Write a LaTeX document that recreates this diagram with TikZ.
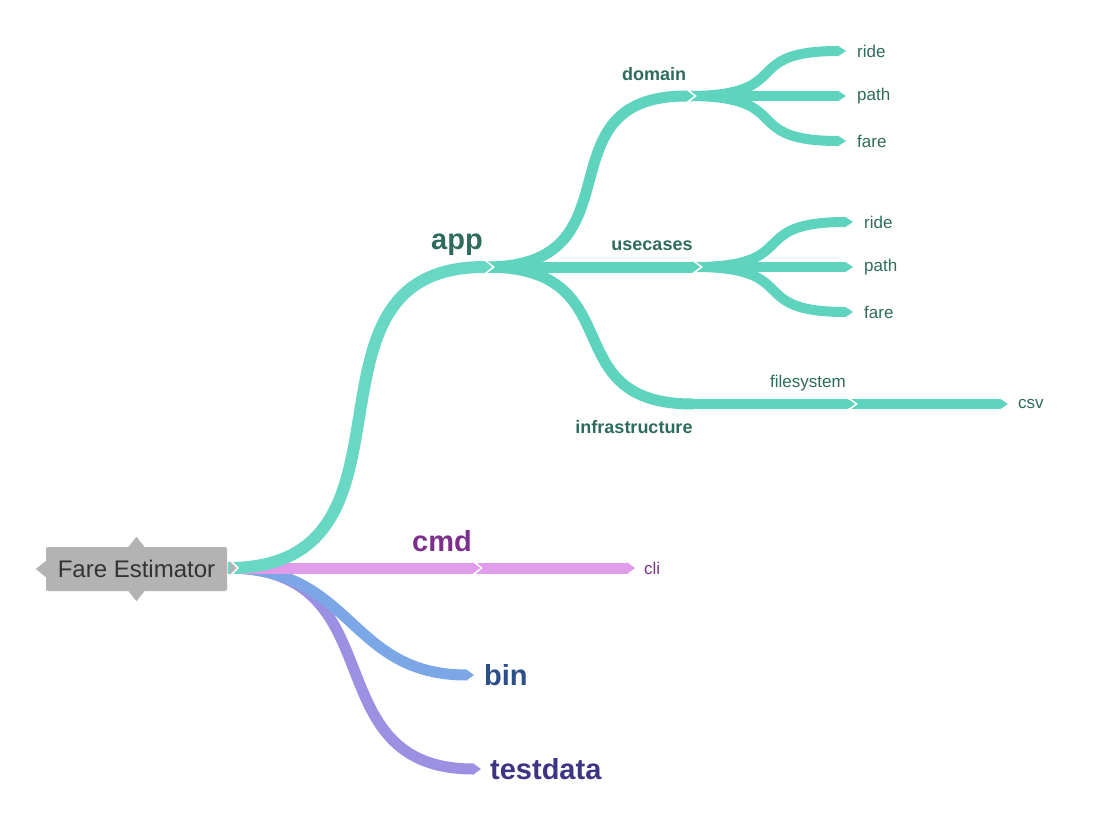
\documentclass[tikz,border=0pt]{standalone}
\usepackage{fontspec}
\setmainfont{Liberation Sans}
\usetikzlibrary{arrows.meta, positioning, calc}
\definecolor{rootgray}{HTML}{B3B3B3}
\definecolor{appband}{HTML}{68D7C4}
\definecolor{leafband}{HTML}{5ED4BE}
\definecolor{cmdband}{HTML}{E09BEA}
\definecolor{binband}{HTML}{7BA7E6}
\definecolor{testband}{HTML}{9C90E3}
\definecolor{apptext}{HTML}{2E6B5C}
\definecolor{cmdtext}{HTML}{7D2F8E}
\definecolor{bintext}{HTML}{2B4F86}
\definecolor{testtext}{HTML}{3D3483}

\begin{document}
\begin{tikzpicture}[x=1pt, y=-1pt,
    band/.style={line width=#1, -{Triangle[length=8pt, width=#1]}},
    band/.default=11pt,
    fan/.style={out=0, in=180, looseness=1.7},
    notch/.style={white, line width=1.6pt},
    lvlone/.style={font=\fontsize{29}{34}\selectfont\bfseries, inner sep=0pt},
    lvltwo/.style={font=\fontsize{18}{22}\selectfont\bfseries, text=apptext, inner sep=0pt},
    leaf/.style={font=\fontsize{17}{20}\selectfont, text=apptext, inner sep=0pt, anchor=west},
    rootbox/.style={fill=rootgray, rounded corners=2pt, minimum width=181pt, minimum height=44pt,
        inner sep=0pt, text=black!80, font=\fontsize{24}{28}\selectfont}]
    \useasboundingbox (0,0) rectangle (1120,833);
    \newcommand\chevron[2]{\draw[notch] ($(#1)+(-6.5,-#2)$) -- ($(#1)+(1.5,0)$) -- ($(#1)+(-6.5,#2)$);}

    % junction points
    \coordinate (r) at (228,568);
    \coordinate (app) at (492,267);
    \coordinate (domain) at (694,96);
    \coordinate (usecases) at (700,267);
    \coordinate (infra) at (700,404);
    \coordinate (filesys) at (855,404);
    \coordinate (cmd) at (480,568);

    % leaves
    \draw[band=10pt, leafband] ($(domain)+(-6,0)$) to[fan] (846,51);
    \draw[band=10pt, leafband] ($(domain)+(-6,0)$) -- (846,96);
    \draw[band=10pt, leafband] ($(domain)+(-6,0)$) to[fan] (846,141);
    \draw[band=10pt, leafband] ($(usecases)+(-6,0)$) to[fan] (853,222);
    \draw[band=10pt, leafband] ($(usecases)+(-6,0)$) -- (853,267);
    \draw[band=10pt, leafband] ($(usecases)+(-6,0)$) to[fan] (853,312);
    \draw[band=10pt, leafband] ($(filesys)+(-6,0)$) -- (1008,404);
    \draw[band, cmdband] ($(cmd)+(-6,0)$) -- (635,568);
    \chevron{domain}{6}
    \chevron{usecases}{6}
    \chevron{infra}{6}
    \chevron{filesys}{6}
    \chevron{cmd}{6.5}
    \draw[band=10pt, leafband] ($(infra)+(-6,0)$) -- (filesys);

    % second level
    \draw[band, leafband] ($(app)+(-6,0)$) to[out=0, in=180, looseness=1.5] (domain);
    \draw[band, leafband] ($(app)+(-6,0)$) -- (usecases);
    \draw[band, leafband] ($(app)+(-6,0)$) to[out=0, in=180, looseness=1.5] (infra);
    \chevron{app}{6.5}

    % first level
    \draw[band, testband] (r) to[out=0, in=180, looseness=1.35] (481,769);
    \draw[band, binband] (r) to[out=0, in=180, looseness=1.2] (474,675);
    \draw[band, cmdband] (r) -- (cmd);
    \draw[band=12pt, appband] (r) to[out=0, in=180, looseness=1.35] (app);

    % root
    \filldraw[rootgray, draw=white, line width=1.6pt] (230,560) -- (238,568) -- (230,576);
    \node[rootbox] (root) at (136.5,569) {Fare Estimator};
    \fill[rootgray] (root.north) ++(-8,0) -- ++(8,-10) -- ++(8,10) -- cycle;
    \fill[rootgray] (root.south) ++(-8,0) -- ++(8,10) -- ++(8,-10) -- cycle;
    \fill[rootgray] (root.west) ++(0,-8) -- ++(-10,8) -- ++(10,8) -- cycle;

    % labels
    \node[lvlone, text=apptext] (applbl) at (457,245) {app};
    \node[lvlone, text=cmdtext] (cmdlbl) at (442,541) {cmd};
    \node[lvlone, text=bintext, anchor=west] (binlbl) at (484,675) {bin};
    \node[lvlone, text=testtext, anchor=west] (testlbl) at (490,769) {testdata};
    \node[lvltwo] (domainlbl) at (654,74) {domain};
    \node[lvltwo] (usecaseslbl) at (652,246) {usecases};
    \node[lvltwo] (infralbl) at (634,427) {infrastructure};
    \node[leaf, anchor=center] (filesyslbl) at (808,383) {filesystem};
    \node[leaf] (ride1) at (857,51) {ride};
    \node[leaf] (path1) at (857,96) {path};
    \node[leaf] (fare1) at (857,141) {fare};
    \node[leaf] (ride2) at (864,222) {ride};
    \node[leaf] (path2) at (864,267) {path};
    \node[leaf] (fare2) at (864,312) {fare};
    \node[leaf] (csvlbl) at (1018,404) {csv};
    \node[leaf, text=cmdtext] (clilbl) at (644,568) {cli};
\end{tikzpicture}
\end{document}
